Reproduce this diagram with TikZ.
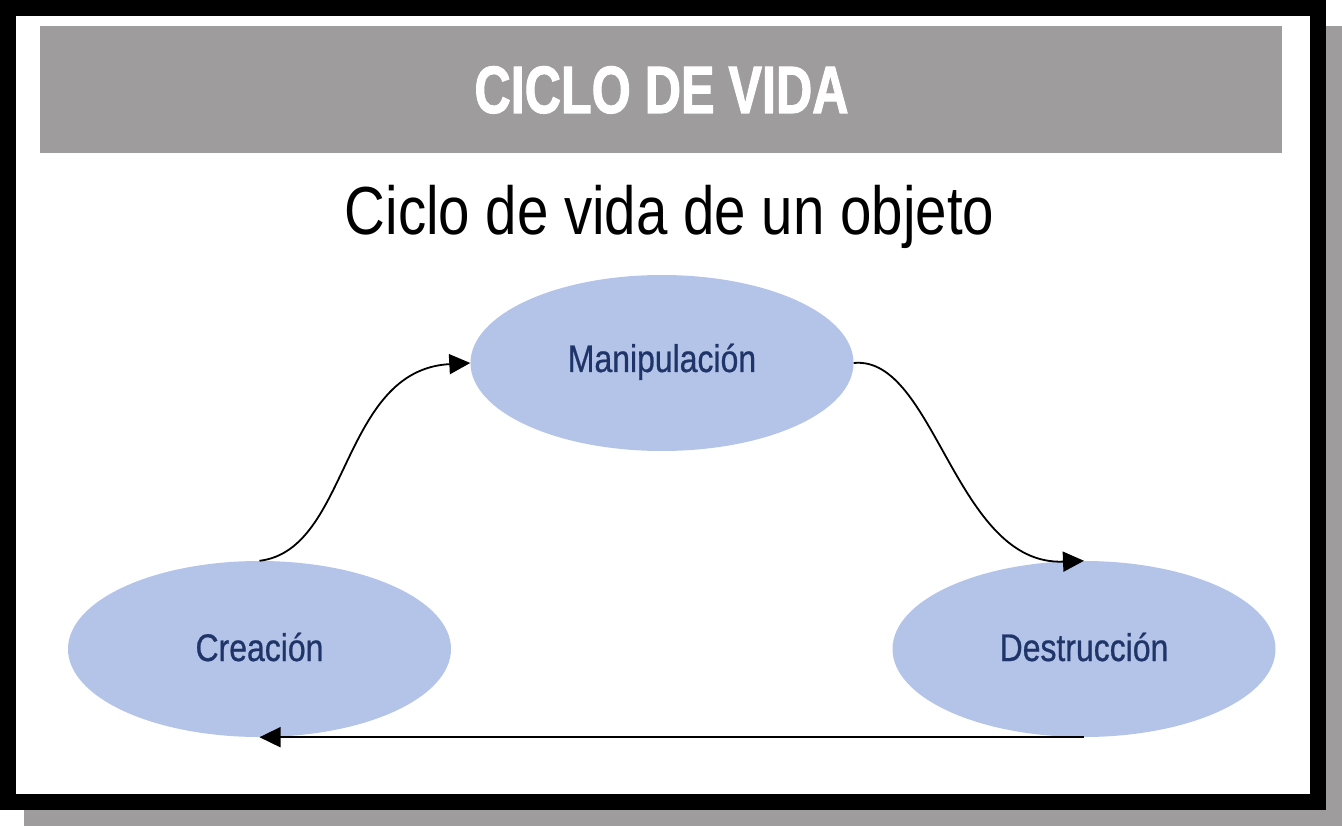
\documentclass[tikz,border=0pt]{standalone}
\usepackage{fontspec}
\usetikzlibrary{arrows.meta,shapes.geometric}
\newfontfamily\titlefont[FakeStretch=0.75,FakeBold=1.5]{Liberation Sans Bold}
\newfontfamily\narrowfont[FakeStretch=0.83]{Liberation Sans}
\newfontfamily\labelfont[FakeStretch=0.83,FakeBold=0.6]{Liberation Sans}
\definecolor{bargray}{HTML}{9E9C9C}
\definecolor{ellfill}{HTML}{B4C4E8}
\definecolor{labblue}{HTML}{1F3468}
\tikzset{
  stage/.style={ellipse, fill=ellfill, minimum width=383pt, minimum height=176pt, inner sep=0pt},
  stagelabel/.style={anchor=base, inner sep=0pt, text=labblue, font=\labelfont\fontsize{38.5}{40}\selectfont},
  conn/.style={line width=1.8pt, -{Triangle[length=21pt,width=20pt]}}
}
\begin{document}
\begin{tikzpicture}[x=1pt,y=-1pt]
\useasboundingbox (0,0) rectangle (1342,826);
% shadow and frame
\fill[bargray] (24,26) rectangle (1342,826);
\fill[black] (0,0) rectangle (1326,810);
\fill[white] (16,16) rectangle (1310,794);
% title bar
\fill[bargray] (40,26) rectangle (1282,153);
\node[anchor=base, inner sep=0pt, text=white, font=\titlefont\fontsize{67}{70}\selectfont] (title) at (661.5,113) {CICLO DE VIDA};
\node[anchor=base, inner sep=0pt, text=black, font=\narrowfont\fontsize{68}{70}\selectfont] (sub) at (669.5,235) {Ciclo de vida de un objeto};
% stages
\node[stage] (man) at (662,363) {};
\node[stage] (cre) at (259.5,649) {};
\node[stage] (des) at (1084,649) {};
\node[stagelabel] (manl) at (662,372) {Manipulación};
\node[stagelabel] (crel) at (259.5,661) {Creación};
\node[stagelabel] (desl) at (1084,661) {Destrucción};
% connectors
\draw[conn] (cre.north) .. controls (350,550) and (340,370) .. (man.west);
\draw[conn] (man.east) .. controls (935,355) and (955,566) .. (des.north);
\draw[conn] (des.south) -- (cre.south);
\end{tikzpicture}
\end{document}
